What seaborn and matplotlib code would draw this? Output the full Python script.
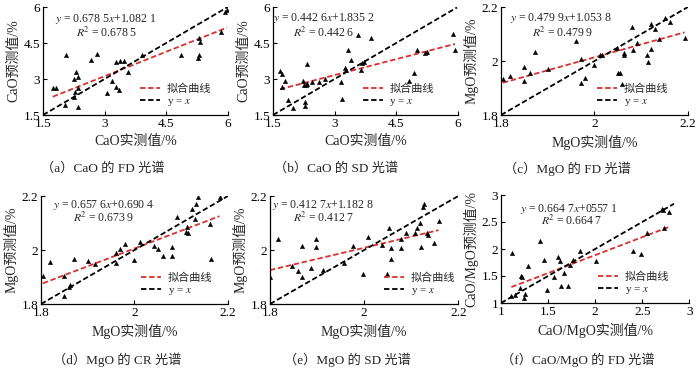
import numpy as np
import matplotlib
matplotlib.use("Agg")
import matplotlib.pyplot as plt
import seaborn as sns

# ---- data ----
a_x = [1.74, 1.82, 2.07, 2.30, 2.26, 2.36, 2.26, 2.29, 2.36, 2.36, 2.03, 2.66, 2.82, 3.06,
       3.19, 3.29, 3.36, 3.27, 3.37, 3.47, 3.58, 3.91, 4.86, 5.27, 5.29, 5.31, 5.33, 5.84, 5.94, 5.98]
a_y = [2.61, 2.61, 4.02, 3.31, 3.00, 3.09, 2.25, 2.44, 2.63, 1.83, 1.93, 3.81, 4.06, 2.42,
       2.92, 2.68, 2.53, 3.69, 3.77, 3.77, 3.28, 3.99, 3.98, 3.88, 3.98, 4.70, 4.56, 4.97, 5.80, 5.86]

b_x = [1.67, 1.71, 1.71, 1.79, 1.86, 1.99, 2.22, 2.26, 2.30, 2.34, 2.34, 2.28, 2.28, 2.46, 2.63,
       2.77, 3.15, 3.19, 3.25, 3.27, 3.32, 3.41, 3.56, 3.64, 3.67, 3.72, 3.88, 4.82, 4.93, 5.00,
       5.20, 5.25, 5.89, 5.93]
b_y = [3.33, 3.19, 2.67, 2.91, 2.11, 1.79, 2.91, 2.74, 2.77, 2.81, 3.63, 2.04, 1.88, 2.88, 2.88,
       2.99, 2.88, 2.18, 3.47, 3.37, 4.20, 3.79, 4.83, 3.37, 3.65, 3.72, 4.69, 2.91, 3.26, 4.20,
       4.09, 4.13, 4.87, 4.20]

c_x = [1.804, 1.820, 1.850, 1.850, 1.862, 1.872, 1.900, 1.960, 1.971, 1.971, 1.980, 2.000, 2.012,
       2.016, 2.049, 2.050, 2.055, 2.058, 2.063, 2.063, 2.081, 2.082, 2.091, 2.113, 2.115, 2.121,
       2.121, 2.129, 2.139, 2.152, 2.162, 2.193]
c_y = [1.935, 1.945, 1.976, 1.925, 1.956, 2.034, 1.972, 2.074, 2.007, 1.920, 1.937, 1.987, 2.024,
       2.024, 2.049, 1.957, 1.957, 1.916, 2.028, 2.022, 2.127, 2.039, 2.065, 2.024, 1.997, 2.046,
       2.136, 2.118, 2.080, 2.158, 2.143, 2.086]

d_x = [1.804, 1.820, 1.849, 1.849, 1.860, 1.862, 1.870, 1.900, 1.916, 1.960, 1.960, 1.970, 1.980,
       2.000, 2.012, 2.042, 2.051, 2.061, 2.081, 2.081, 2.092, 2.111, 2.115, 2.113, 2.124, 2.130,
       2.132, 2.137, 2.162, 2.163, 2.182]
d_y = [1.904, 1.954, 1.904, 1.830, 1.864, 1.870, 1.965, 1.960, 1.948, 1.990, 1.953, 2.002, 2.022,
       1.963, 2.031, 2.016, 2.002, 1.978, 1.978, 2.012, 2.121, 2.068, 2.064, 2.084, 2.151, 2.114,
       2.170, 2.195, 2.096, 1.965, 2.198]

e_x = [1.800, 1.816, 1.846, 1.859, 1.867, 1.867, 1.887, 1.897, 1.897, 1.912, 1.957, 1.977, 1.998,
       2.008, 2.037, 2.048, 2.053, 2.057, 2.057, 2.078, 2.078, 2.088, 2.108, 2.112, 2.119, 2.121,
       2.124, 2.128, 2.133, 2.135, 2.149, 2.158]
e_y = [1.899, 2.041, 1.941, 1.923, 1.901, 2.015, 1.935, 2.041, 2.010, 1.926, 1.953, 2.015, 1.911,
       2.049, 2.019, 1.911, 2.080, 2.006, 1.965, 2.006, 2.040, 2.062, 2.062, 2.080, 2.099, 2.010,
       2.158, 2.170, 2.062, 2.056, 2.027, 2.109]

f_x = [1.110, 1.117, 1.145, 1.198, 1.216, 1.223, 1.244, 1.250, 1.286, 1.410, 1.452, 1.490, 1.558,
       1.610, 1.622, 1.633, 1.668, 1.717, 1.735, 1.763, 1.834, 2.004, 2.406, 2.488, 2.548, 2.707,
       2.717, 2.735, 2.788]
f_y = [1.135, 1.935, 1.150, 1.277, 1.505, 1.480, 1.090, 1.170, 1.690, 2.140, 1.800, 1.246, 1.480,
       1.860, 1.770, 1.320, 1.554, 1.320, 1.708, 1.800, 1.954, 1.770, 1.954, 1.911, 2.292, 2.735,
       2.720, 2.397, 2.692]

slopes = [0.6785, 0.4426, 0.4799, 0.6576, 0.4127, 0.6647]
intercepts = [1.0821, 1.8352, 1.0538, 0.6904, 1.1828, 0.5571]
eq_texts = ["0.678 5$x$+1.082 1", "0.442 6$x$+1.835 2", "0.479 9$x$+1.053 8",
            "0.657 6$x$+0.690 4", "0.412 7$x$+1.182 8", "0.664 7$x$+0557 1"]
r2_texts = ["0.678 5", "0.442 6", "0.479 9", "0.673 9", "0.412 7", "0.664 7"]
names = ["CaO", "CaO", "MgO", "MgO", "MgO", "CaO/MgO"]
captions = ["（a）CaO 的 FD 光谱", "（b）CaO 的 SD 光谱", "（c）MgO 的 FD 光谱",
            "（d）MgO 的 CR 光谱", "（e）MgO 的 SD 光谱", "（f）CaO/MgO 的 FD 光谱"]
ticks = [[1.5, 3, 4.5, 6], [1.5, 3, 4.5, 6], [1.8, 2, 2.2],
         [1.8, 2, 2.2], [1.8, 2, 2.2], [1, 1.5, 2, 2.5, 3]]

xs = [a_x, b_x, c_x, d_x, e_x, f_x]
ys = [a_y, b_y, c_y, d_y, e_y, f_y]

# ---- layout (figure fractions) ----
axes_rects = [[0.0614, 0.6933, 0.264, 0.288], [0.39, 0.6933, 0.264, 0.288],
              [0.7157, 0.6933, 0.267, 0.288], [0.0586, 0.1893, 0.267, 0.288],
              [0.3857, 0.1893, 0.269, 0.288], [0.7157, 0.192, 0.269, 0.288]]
eq_pos = [(0.065, 0.89, 0.18, 0.76), (0.0, 0.90, 0.11, 0.76), (0.05, 0.90, 0.165, 0.76),
          (0.065, 0.92, 0.17, 0.80), (0.01, 0.92, 0.12, 0.80), (0.10, 0.87, 0.21, 0.76)]
leg_anchor = [(0.49, 0.0), (0.45, 0.0), (0.48, 0.0), (0.50, 0.0), (0.57, 0.0), (0.48, 0.0)]
cap_pos = [(0.147, 0.55), (0.48, 0.55), (0.81, 0.55),
           (0.167, 0.04), (0.496, 0.04), (0.826, 0.04)]

sns.set_style("white")
plt.rcParams['font.family'] = ['Liberation Serif', 'Noto Sans CJK SC']
plt.rcParams['mathtext.fontset'] = 'stix'

fig = plt.figure(figsize=(7, 3.75), dpi=100)
red = "#d9302c"

for i in range(6):
    ax = fig.add_axes(axes_rects[i])
    x = np.array(xs[i])
    y = np.array(ys[i])
    lo, hi = ticks[i][0], ticks[i][-1]

    sns.scatterplot(x=x, y=y, ax=ax, marker="^", s=10, color="black",
                    edgecolor="black", linewidth=0.3, zorder=3)

    fx = np.array([x.min(), x.max()])
    sns.lineplot(x=fx, y=slopes[i] * fx + intercepts[i], ax=ax, color=red,
                 linestyle=(0, (3, 1.5)), linewidth=1.3, label="拟合曲线")
    end = min(hi, x.max() + 0.05)
    ix = np.array([lo, end])
    sns.lineplot(x=ix, y=ix, ax=ax, color="black", linestyle=(0, (3, 1.5)),
                 linewidth=1.3, label="y = $x$")

    ax.set_xlim(lo, hi)
    ax.set_ylim(lo, hi)
    ax.set_xticks(ticks[i])
    ax.set_yticks(ticks[i])
    ax.set_xticklabels([f"{t:g}" for t in ticks[i]])
    ax.set_yticklabels([f"{t:g}" for t in ticks[i]])
    ax.tick_params(direction="in", length=3, width=0.8, labelsize=9.5, pad=2,
                   bottom=True, left=True, colors="black")
    for s in ["top", "right"]:
        ax.spines[s].set_visible(False)
    for s in ["left", "bottom"]:
        ax.spines[s].set_color("black")
        ax.spines[s].set_linewidth(0.9)

    ax.set_xlabel(names[i] + "实测值/%", fontsize=10, labelpad=4)
    ax.set_ylabel(names[i] + "预测值/%", fontsize=10, labelpad=2)

    ex, ey, rx, ry = eq_pos[i]
    ax.text(ex, ey, "$y$ = " + eq_texts[i], transform=ax.transAxes, fontsize=8.5,
            va="center", ha="left")
    ax.text(rx, ry, "$R$$^2$ = " + r2_texts[i], transform=ax.transAxes, fontsize=8.5,
            va="center", ha="left")

    ax.legend(loc="lower left", bbox_to_anchor=leg_anchor[i], frameon=False,
              fontsize=8, handlelength=1.8, handletextpad=0.6, labelspacing=0.25,
              borderaxespad=0.2)

    cx, cy = cap_pos[i]
    fig.text(cx, cy, captions[i], ha="center", va="center", fontsize=9.5)

fig.savefig("out.png", dpi=100)
